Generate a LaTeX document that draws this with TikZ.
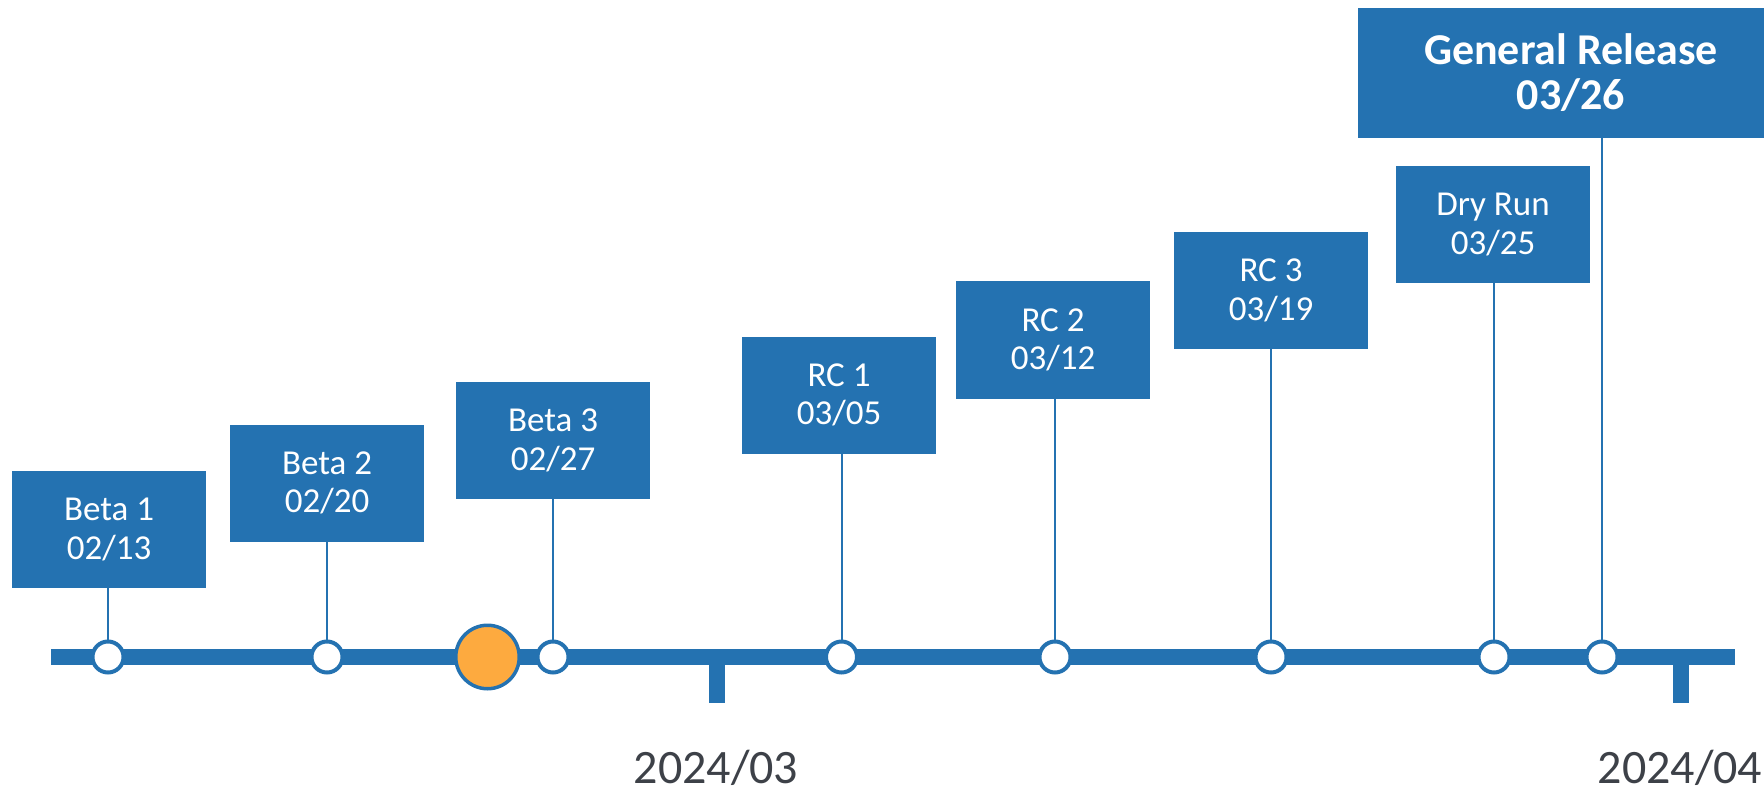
\documentclass[tikz,border=0pt]{standalone}
\usepackage{fontspec}
\setmainfont{Carlito}
\usepackage{tikz}
\usetikzlibrary{calc,positioning}
\definecolor{tlblue}{RGB}{36,114,177}
\definecolor{tlorange}{RGB}{253,170,63}
\definecolor{tlgray}{RGB}{61,65,72}
\tikzstyle{ms}=[fill=tlblue,text=white,minimum width=194pt,minimum height=117pt,align=center,inner sep=0pt,font=\fontsize{35}{38.7}\selectfont]
\tikzstyle{dot}=[circle,draw=tlblue,fill=white,line width=4pt,minimum size=31pt,inner sep=0pt]
\tikzstyle{stem}=[draw=tlblue,line width=2pt]
\tikzstyle{lbl}=[anchor=base,text=tlgray,inner sep=0pt,font=\fontsize{48}{50}\selectfont]

\begin{document}
\begin{tikzpicture}[x=1pt,y=-1pt]
      \useasboundingbox (0,0) rectangle (1764,794);

      % the axis and its month ticks
      \coordinate (ax0) at (51,657);
      \coordinate (ax1) at (1735,657);
      \coordinate (t1) at (717,657);
      \coordinate (t2) at (1681,657);
      \draw[tlblue,line width=16pt] (ax0) -- (ax1);
      \draw[tlblue,line width=16pt] (t1) -- ++(0,46);
      \draw[tlblue,line width=16pt] (t2) -- ++(0,46);
      \node [lbl] (m1) at (716,783) {2024/03};
      \node [lbl] (m2) at (1680,783) {2024/04};

      % milestones
      \node [ms] (ms1) at (109,529.5) {Beta 1\\02/13};
      \node [ms] (ms2) at (327,483) {Beta 2\\02/20};
      \node [ms] (ms3) at (553,440.5) {Beta 3\\02/27};
      \node [ms] (ms4) at (839,395) {RC 1\\03/05};
      \node [ms] (ms5) at (1053,340) {RC 2\\03/12};
      \node [ms] (ms6) at (1271,290.5) {RC 3\\03/19};
      \node [ms] (ms7) at (1493,224.5) {Dry Run\\03/25};
      \node [ms,minimum width=426pt,minimum height=130pt,font=\fontsize{44}{45}\selectfont\bfseries] (ms8) at (1571,73) {General Release\\03/26};

      \node [dot] (d1) at (108,657) {};
      \node [dot] (d2) at (327,657) {};
      \node [dot] (d3) at (553,657) {};
      \node [dot] (d4) at (841.5,657) {};
      \node [dot] (d5) at (1055,657) {};
      \node [dot] (d6) at (1271,657) {};
      \node [dot] (d7) at (1494,657) {};
      \node [dot] (d8) at (1602,657) {};

      % today
      \node [dot,fill=tlorange,line width=3.5pt,minimum size=63.5pt] (now) at (487.5,657) {};

      \foreach \i in {1,...,8}
        \draw[stem] (d\i) -- (d\i |- ms\i.south);
\end{tikzpicture}
\end{document}
